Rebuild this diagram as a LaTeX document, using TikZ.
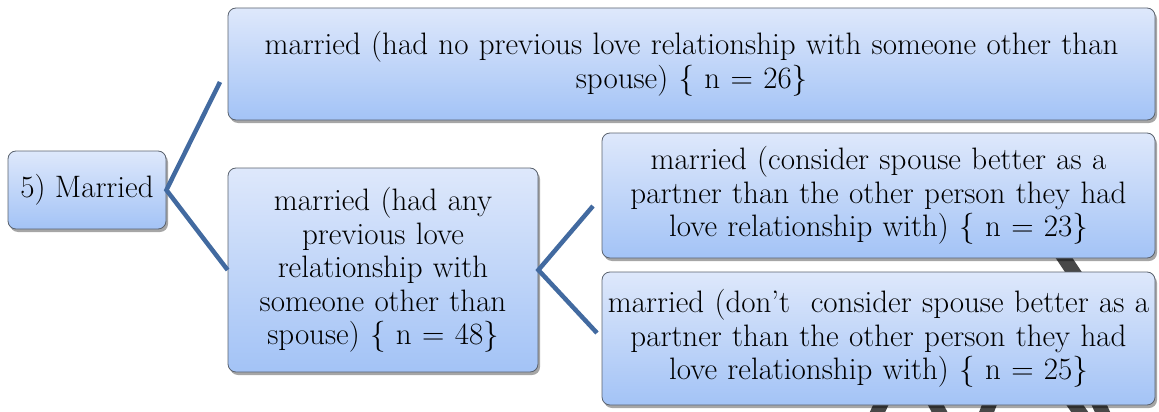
\documentclass[tikz,border=0pt]{standalone}
\usepackage{fontspec}
\usetikzlibrary{shadows}

\begin{document}
\begin{tikzpicture}[x=1pt,y=-1pt,
  box/.style={draw=bx_line,line width=0.8pt,rounded corners=8pt,
    top color=bx_top,bottom color=bx_bot,
    drop shadow={shadow xshift=2pt,shadow yshift=-3pt,fill=black,opacity=0.35},
    align=center,inner sep=0pt,font=\fontsize{31}{33.5}\selectfont},
  link/.style={line width=4.5pt,color=bx_link,line join=miter},
  ghost/.style={line width=14pt,color=bx_gray}]

% ------------------------------------------------ smart art colors
\definecolor{bx_top}{RGB}{222,232,251}  %#DEE8FB
\definecolor{bx_bot}{RGB}{163,195,246}  %#A3C3F6
\definecolor{bx_line}{RGB}{90,98,110}   %#5A626E
\definecolor{bx_link}{RGB}{66,106,160}  %#426AA0
\definecolor{bx_gray}{RGB}{72,72,72}    %#484848

\useasboundingbox (0,0) rectangle (1159,412);

% ------------------------------------------------ pieces of the next chart
\begin{scope}
\clip (0,0) rectangle (1159,412);
\draw[ghost] (1040,222) -- (1100,312);
\draw[ghost] (884,398) -- (872,424);
\draw[ghost] (932,398) -- (946,424);
\draw[ghost] (992,398) -- (982,424);
\draw[ghost] (1070,398) -- (1088,424);
\draw[ghost] (1096,398) -- (1108,424);
\end{scope}

% ------------------------------------------------ boxes
\node[box,minimum width=158pt,minimum height=78pt] (married) at (87,190) {5) Married};

\node[box,minimum width=927pt,minimum height=112pt,text width=910pt] (noprev) at (691.5,64)
  {married (had no previous love relationship with someone other than\\ spouse) \{ n = 26\}};

\node[box,minimum width=310pt,minimum height=204pt,text width=300pt] (anyprev) at (383,270)
  {married (had any\\ previous love\\ relationship with\\ someone other than\\ spouse) \{ n = 48\}};

\node[box,minimum width=553pt,minimum height=125pt,text width=545pt] (better) at (878.5,195.5)
  {married (consider spouse better as a\\ partner than the other person they had\\ love relationship with) \{ n = 23\}};

\node[box,minimum width=553pt,minimum height=133pt,text width=545pt] (notbetter) at (878.5,338.5)
  {married (don’t\ \ consider spouse better as a\\ partner than the other person they had\\ love relationship with) \{ n = 25\}};

% ------------------------------------------------ connectors
\coordinate (noprev_end) at (220,82);
\coordinate (better_end) at (593,206);
\coordinate (notbetter_end) at (597,333);

\draw[link] (noprev_end) -- (married.east) -- (anyprev.west);
\draw[link] (better_end) -- (anyprev.east) -- (notbetter_end);

\end{tikzpicture}
\end{document}
